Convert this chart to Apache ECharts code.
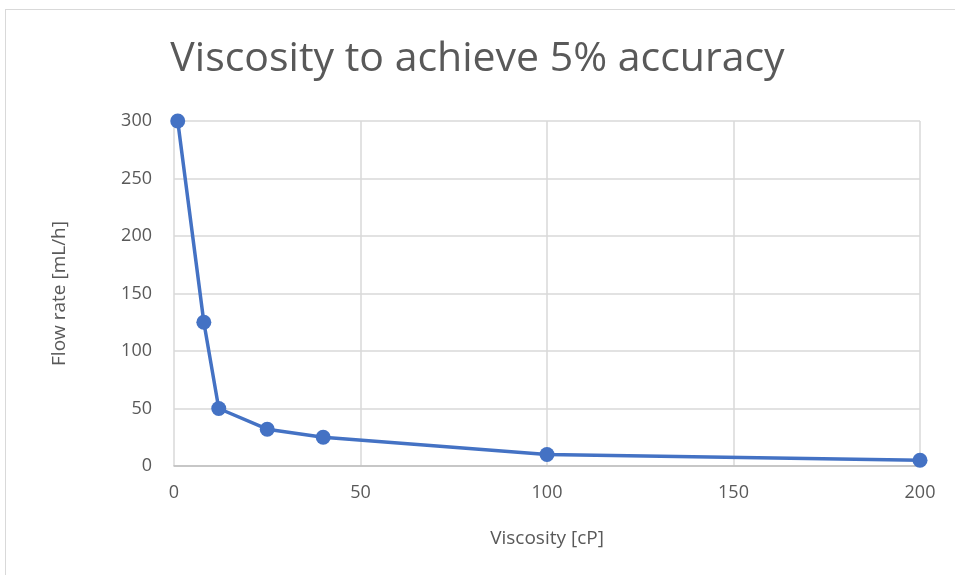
<!DOCTYPE html>
<html>
<head>
<meta charset="utf-8">
<script src="https://cdn.jsdelivr.net/npm/echarts@6/dist/echarts.min.js"></script>
<style>
    html, body { margin: 0; padding: 0; background: #fff; }
    #frame { position: absolute; left: 5px; top: 9px; width: 960px; height: 580px; border: 1px solid #d9d9d9; box-sizing: border-box; }
    #chart { position: absolute; left: 0; top: 0; width: 955px; height: 575px; }
</style>
</head>
<body>
<div id="frame"></div>
<div id="chart"></div>
<script>
const viscosity = [1, 8, 12, 25, 40, 100, 200];
const flowRate = [300, 125, 50, 32, 25, 10, 5];

const textColor = '#595959';
const fontFamily = '"Open Sans", "Noto Sans", sans-serif';

const chart = echarts.init(document.getElementById('chart'));

chart.setOption({
    animation: false,
    title: {
        text: 'Viscosity to achieve 5% accuracy',
        left: 'center',
        top: 34,
        textStyle: { color: textColor, fontSize: 41, fontWeight: 'normal', fontFamily: fontFamily }
    },
    grid: { left: 174, right: 35, top: 121, bottom: 109 },
    xAxis: {
        type: 'value',
        min: 0,
        max: 200,
        interval: 50,
        name: 'Viscosity [cP]',
        nameLocation: 'middle',
        nameGap: 63,
        nameTextStyle: { color: textColor, fontSize: 19, fontFamily: fontFamily },
        axisLine: { show: true, lineStyle: { color: '#bfbfbf', width: 1.5 } },
        axisTick: { show: false },
        axisLabel: { color: textColor, fontSize: 18, margin: 18, fontFamily: fontFamily },
        splitLine: { show: true, lineStyle: { color: '#d9d9d9', width: 1.5 } }
    },
    yAxis: {
        type: 'value',
        min: 0,
        max: 300,
        interval: 50,
        name: 'Flow rate [mL/h]',
        nameLocation: 'middle',
        nameGap: 105,
        nameTextStyle: { color: textColor, fontSize: 19, fontFamily: fontFamily },
        axisLine: { show: false },
        axisTick: { show: false },
        axisLabel: { color: textColor, fontSize: 18, margin: 22, fontFamily: fontFamily },
        splitLine: { show: true, lineStyle: { color: '#d9d9d9', width: 1.5 } }
    },
    series: [
        {
            type: 'line',
            data: viscosity.map((v, i) => [v, flowRate[i]]),
            symbol: 'circle',
            symbolSize: 15,
            lineStyle: { color: '#4472c4', width: 3.5 },
            itemStyle: { color: '#4472c4' }
        }
    ]
});
</script>
</body>
</html>
